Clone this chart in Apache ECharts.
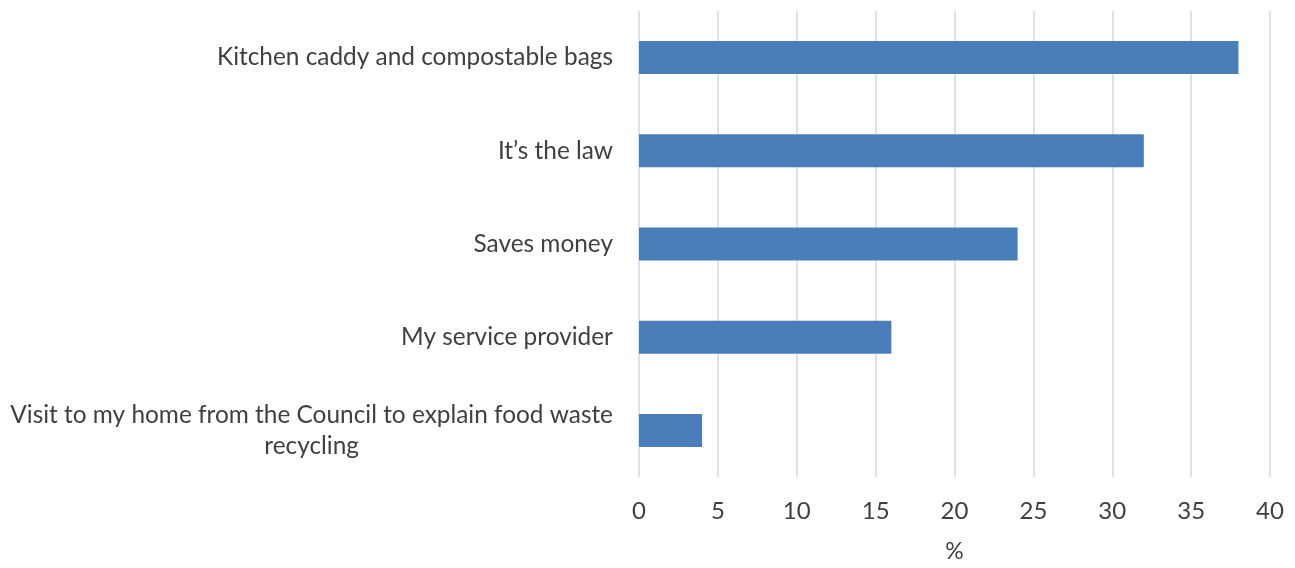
<!DOCTYPE html>
<html>
<head>
<meta charset="utf-8">
<script src="https://cdn.jsdelivr.net/npm/echarts@6/dist/echarts.min.js"></script>
<style>
  html, body { margin: 0; padding: 0; background: #fff; overflow: hidden; }
  #chart { width: 1295px; height: 568px; }
</style>
</head>
<body>
<div id="chart"></div>
<script>
// Reasons given for recycling food waste (% of respondents)
const categories = [
  'Visit to my home from the Council to explain food waste\nrecycling',
  'My service provider',
  'Saves money',
  'It\u2019s the law',
  'Kitchen caddy and compostable bags'
];
const values = [4, 16, 24, 32, 38];
const xTicks = { min: 0, max: 40, interval: 5 };
const axisName = '%';

const FONT = 'Lato';
const TEXT = '#404040';

const chart = echarts.init(document.getElementById('chart'), null, { renderer: 'canvas', width: 1295, height: 568 });
chart.setOption({
  animation: false,
  backgroundColor: '#ffffff',
  textStyle: { fontFamily: FONT },
  grid: { left: 639, width: 631, top: 11, height: 469, containLabel: false },
  xAxis: {
    type: 'value',
    min: xTicks.min,
    max: xTicks.max,
    interval: xTicks.interval,
    name: axisName,
    nameLocation: 'middle',
    nameGap: 63,
    nameTextStyle: { color: TEXT, fontSize: 23, fontFamily: FONT },
    axisLine: { show: false },
    axisTick: { show: false },
    axisLabel: { color: TEXT, fontSize: 24, fontFamily: FONT, margin: 22 },
    splitLine: { show: true, lineStyle: { color: '#d9d9d9', width: 1.5 } }
  },
  yAxis: {
    type: 'category',
    data: categories,
    axisLine: { show: false },
    axisTick: { show: false },
    axisLabel: {
      color: TEXT,
      fontSize: 24.4,
      fontFamily: FONT,
      margin: 26,
      lineHeight: 31,
      align: 'right',
      formatter: function (v) {
        // each line is centred within the right-aligned label block
        return v.split('\n').map(function (l) { return '{c|' + l + '}'; }).join('\n');
      },
      rich: {
        c: { align: 'center', color: TEXT, fontSize: 24.4, fontFamily: FONT, lineHeight: 31 }
      }
    },
    splitLine: { show: false }
  },
  series: [{
    type: 'bar',
    data: values,
    barWidth: 33,
    itemStyle: { color: '#4a7ebb' }
  }]
});
</script>
</body>
</html>
